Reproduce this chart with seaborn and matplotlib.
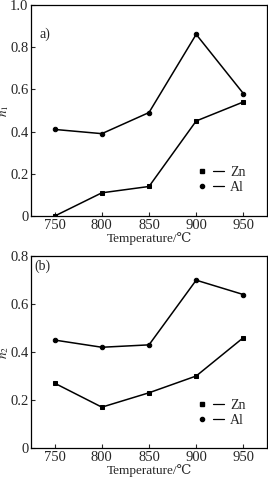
import matplotlib
matplotlib.use("Agg")
import matplotlib.pyplot as plt
from matplotlib.lines import Line2D
from matplotlib.legend_handler import HandlerTuple
import seaborn as sns
import pandas as pd

temps = [750, 800, 850, 900, 950]
n1_zn = [0.0, 0.11, 0.14, 0.45, 0.54]
n1_al = [0.41, 0.39, 0.49, 0.86, 0.58]
n2_zn = [0.27, 0.17, 0.23, 0.30, 0.46]
n2_al = [0.45, 0.42, 0.43, 0.70, 0.64]
series = ["Zn", "Al"]
markers = {"Zn": "s", "Al": "o"}

sns.set_theme(style="ticks")
plt.rcParams['font.family'] = ['Liberation Serif', 'DejaVu Serif']
plt.rcParams['mathtext.fontset'] = 'stix'

fig = plt.figure(figsize=(2.68, 4.78), dpi=100)
ax1 = fig.add_axes([0.116, 0.548, 0.88, 0.442])
ax2 = fig.add_axes([0.116, 0.063, 0.88, 0.401])

def panel(ax, zn, al, ylabel, ymax, yticks, ylabels, tag, tagpos):
    df = pd.DataFrame({"T": temps * 2, "v": zn + al,
                       "s": ["Zn"] * len(temps) + ["Al"] * len(temps)})
    sns.lineplot(data=df, x="T", y="v", hue="s", style="s",
                 palette={"Zn": "black", "Al": "black"},
                 markers=markers, dashes=False, markersize=3.2,
                 markeredgecolor="black", linewidth=1.1, ax=ax, legend=False)
    ax.set_xlim(725, 975)
    ax.set_ylim(0, ymax)
    ax.set_xticks(temps)
    ax.set_yticks(yticks)
    ax.set_yticklabels(ylabels)
    ax.tick_params(direction="in", length=3, width=0.8, labelsize=10.5, pad=2)
    for sp in ax.spines.values():
        sp.set_linewidth(0.9)
        sp.set_color("black")
    ax.set_xlabel("Temperature/\u2103", fontsize=9.5, labelpad=0)
    ax.set_ylabel(ylabel, fontsize=9.5)
    ax.yaxis.set_label_coords(-0.085, 0.5)
    ax.text(tagpos[0], tagpos[1], tag, transform=ax.transAxes, fontsize=10, va="center")
    handles = []
    for s in series:
        m = Line2D([], [], marker=markers[s], color="black", linestyle="none", markersize=3)
        l = Line2D([], [], color="black", linewidth=0.9)
        handles.append((m, l))
    ax.legend(handles, series, handler_map={tuple: HandlerTuple(ndivide=None, pad=0.4)},
              loc="lower right", bbox_to_anchor=(0.95, 0.06), frameon=False,
              fontsize=10, handlelength=2.0, handletextpad=0.4, labelspacing=0.1,
              borderpad=0.2)

panel(ax1, n1_zn, n1_al, "$n_1$", 1.0, [0, 0.2, 0.4, 0.6, 0.8, 1.0],
      ["0", "0.2", "0.4", "0.6", "0.8", "1.0"], "a)", (0.035, 0.86))
panel(ax2, n2_zn, n2_al, "$n_2$", 0.8, [0, 0.2, 0.4, 0.6, 0.8],
      ["0", "0.2", "0.4", "0.6", "0.8"], "(b)", (0.012, 0.945))

fig.savefig("out.png", dpi=100)
